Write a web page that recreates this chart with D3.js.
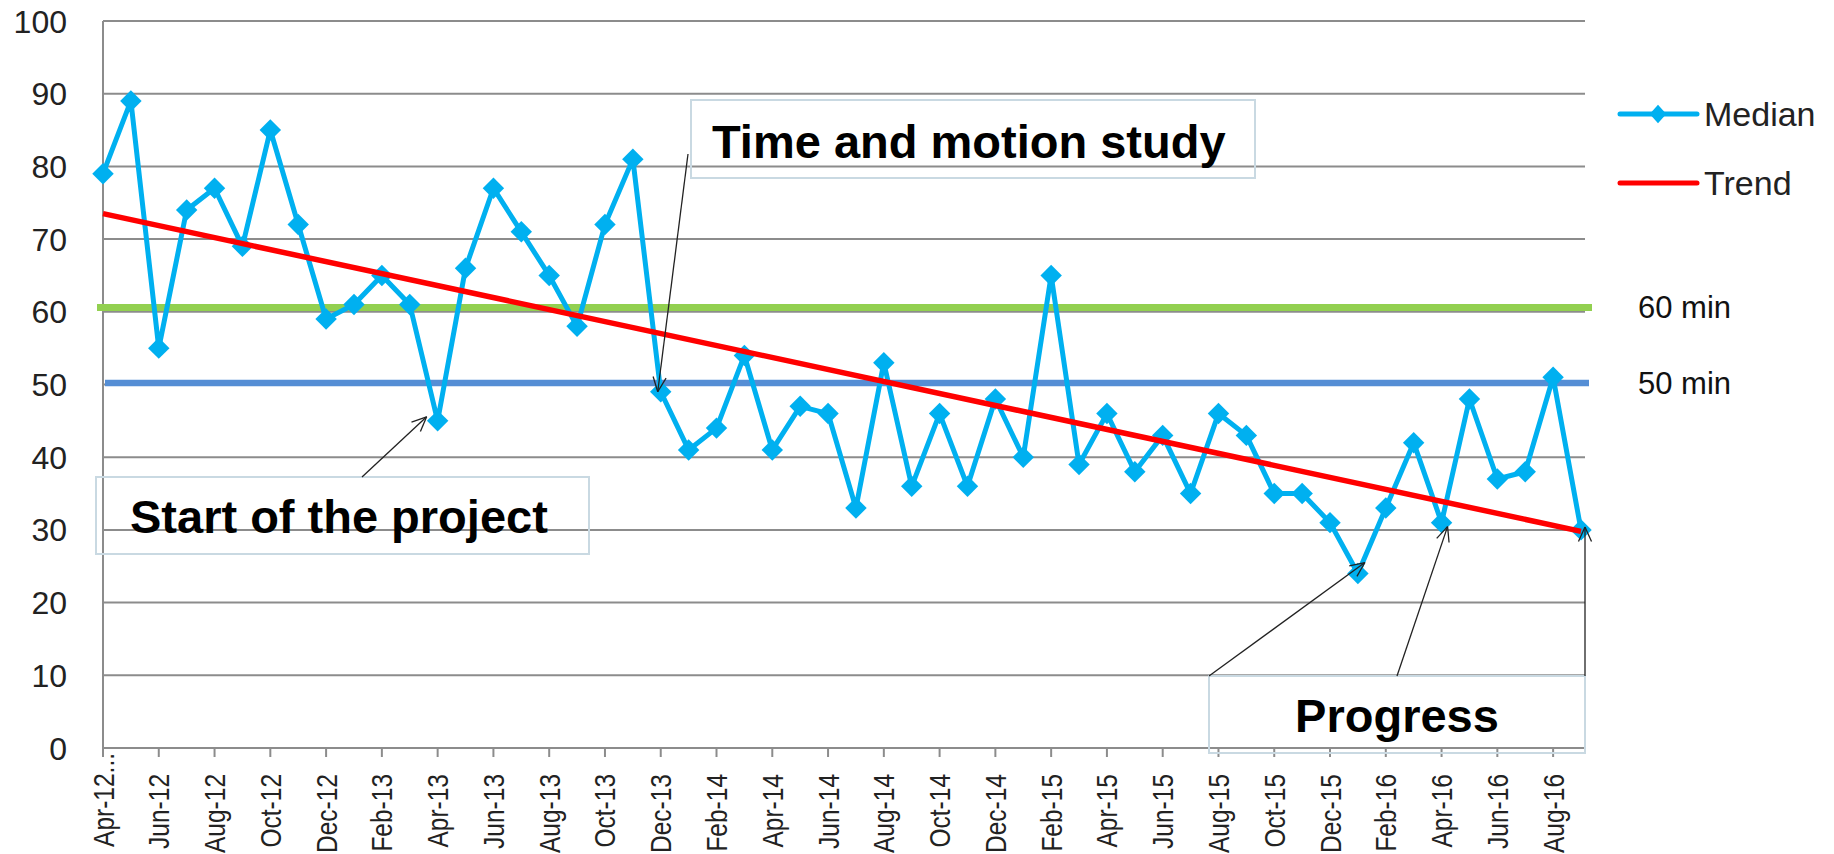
<!DOCTYPE html>
<html><head><meta charset="utf-8">
<script src="https://cdn.jsdelivr.net/npm/d3@7/dist/d3.min.js"></script>
<style>
body{margin:0;background:#fff;}
svg{display:block;font-family:"Liberation Sans",Arial,sans-serif;}
</style>
</head><body>
<svg id="chart" width="1834" height="854"></svg>
<script>
// ---------- DATA ----------
const months = [
  "Apr-12","May-12","Jun-12","Jul-12","Aug-12","Sep-12","Oct-12","Nov-12","Dec-12",
  "Jan-13","Feb-13","Mar-13","Apr-13","May-13","Jun-13","Jul-13","Aug-13","Sep-13","Oct-13","Nov-13","Dec-13",
  "Jan-14","Feb-14","Mar-14","Apr-14","May-14","Jun-14","Jul-14","Aug-14","Sep-14","Oct-14","Nov-14","Dec-14",
  "Jan-15","Feb-15","Mar-15","Apr-15","May-15","Jun-15","Jul-15","Aug-15","Sep-15","Oct-15","Nov-15","Dec-15",
  "Jan-16","Feb-16","Mar-16","Apr-16","May-16","Jun-16","Jul-16","Aug-16","Sep-16"
];
const median = [
  79,89,55,74,77,69,85,72,59,
  61,65,61,45,66,77,71,65,58,72,81,49,
  41,44,54,41,47,46,33,53,36,46,36,48,
  40,65,39,46,38,43,35,46,43,35,35,31,
  24,33,42,31,48,37,38,51,30
];
const tickMonths = months.filter((m,i)=>i%2===0);
const tickText = tickMonths.map((m,i)=> i===0 ? "Apr-12..." : m);
const yTicks = [0,10,20,30,40,50,60,70,80,90,100];
const trendEnds = [73.5, 29.8];           // trendline value at first and last month
const refLines = [{label:"60 min", value:60.6, color:"#92D050", x1:97, x2:1592, w:7},
                  {label:"50 min", value:50.2, color:"#558ED5", x1:105, x2:1589, w:6.5}];
const legendItems = [{name:"Median", color:"#00B0F0", marker:true},
                     {name:"Trend", color:"#FF0000", marker:false}];
const notes = [
  {text:"Start of the project", box:[96,477,493,77], tx:130, ty:533,
   arrows:[{from:[362,477], month:"Apr-13", value:45, off:[-11,-4]}]},
  {text:"Time and motion study", box:[691,100,564,78], tx:712, ty:158,
   arrows:[{from:[688,154], month:"Dec-13", value:49, off:[-3,0]}]},
  {text:"Progress", box:[1209,676,376,77], tx:1397, ty:732, anchor:"middle",
   arrows:[{from:[1209,676], month:"Jan-16", value:24, off:[7,-11]},
           {from:[1397,676], month:"Apr-16", value:31, off:[6,4]},
           {from:[1585,676], month:"Sep-16", value:30, off:[4,-3]}]}
];

// ---------- LAYOUT ----------
const svg = d3.select("#chart");
const L = 103, R = 1581, GR = 1585, T = 21, B = 748;
const x = d3.scalePoint().domain(months).range([L, R]);
const y = d3.scaleLinear().domain([0,100]).range([B, T]);
const gridColor = "#8c8c8c";

// gridlines
svg.append("g").selectAll("line").data(yTicks).join("line")
  .attr("x1", L).attr("x2", GR)
  .attr("y1", d=>y(d)).attr("y2", d=>y(d))
  .attr("stroke", gridColor).attr("stroke-width", 2);
// left axis line
svg.append("line").attr("x1",L).attr("x2",L).attr("y1",y(100)).attr("y2",y(0))
  .attr("stroke", gridColor).attr("stroke-width", 2);
// x tick marks
svg.append("g").selectAll("line").data(tickMonths).join("line")
  .attr("x1", d=>x(d)).attr("x2", d=>x(d))
  .attr("y1", y(0)).attr("y2", y(0)+9)
  .attr("stroke", gridColor).attr("stroke-width", 2);

// y labels
svg.append("g").selectAll("text").data(yTicks).join("text")
  .attr("x", 67).attr("y", d=>y(d)).attr("dy","0.36em")
  .attr("text-anchor","end").attr("font-size",32).attr("fill","#222")
  .text(d=>d);

// x labels
svg.append("g").selectAll("text").data(tickMonths).join("text")
  .attr("transform", (d,i)=>`translate(${x(d)+10.5},${i===0?753:774}) rotate(-90) scale(1,1.2)`)
  .attr("text-anchor","end").attr("font-size",24.5).attr("fill","#222")
  .text((d,i)=>tickText[i]);

// reference lines
refLines.forEach(r=>{
  svg.append("line").attr("x1",r.x1).attr("x2",r.x2)
    .attr("y1",y(r.value)).attr("y2",y(r.value))
    .attr("stroke",r.color).attr("stroke-width",r.w);
  svg.append("text").attr("x",1638).attr("y",y(r.value)+10.5)
    .attr("font-size",31).attr("fill","#111").text(r.label);
});

// median series
const line = d3.line().x((d,i)=>x(months[i])).y(d=>y(d));
svg.append("path").datum(median).attr("d",line)
  .attr("fill","none").attr("stroke","#00B0F0").attr("stroke-width",5)
  .attr("stroke-linejoin","round");
const diamond = d3.symbol(d3.symbolSquare, 230);
svg.append("g").selectAll("path").data(median).join("path")
  .attr("d", diamond())
  .attr("transform",(d,i)=>`translate(${x(months[i])},${y(d)}) rotate(45)`)
  .attr("fill","#00B0F0");

// trend
svg.append("line")
  .attr("x1", x(months[0])).attr("y1", y(trendEnds[0]))
  .attr("x2", x(months[months.length-1])).attr("y2", y(trendEnds[1]))
  .attr("stroke","#FF0000").attr("stroke-width",5.5);

// legend
const legendDiamond = d3.symbol(d3.symbolSquare, 170);
legendItems.forEach((it,i)=>{
  const ly = 114 + i*69;
  svg.append("line").attr("x1",1620).attr("x2",1697).attr("y1",ly).attr("y2",ly)
    .attr("stroke",it.color).attr("stroke-width",5).attr("stroke-linecap","round");
  if(it.marker){
    svg.append("path").attr("d",legendDiamond())
      .attr("transform",`translate(1658,${ly}) scale(0.9,1) rotate(45)`)
      .attr("fill",it.color);
  }
  svg.append("text").attr("x",1704).attr("y",ly+12)
    .attr("font-size",34).attr("fill","#222").text(it.name);
});

// annotations
notes.forEach(n=>{
  svg.append("rect").attr("x",n.box[0]).attr("y",n.box[1])
    .attr("width",n.box[2]).attr("height",n.box[3])
    .attr("fill","none").attr("stroke","#c9d9e2").attr("stroke-width",2);
  svg.append("text").attr("x",n.tx).attr("y",n.ty)
    .attr("text-anchor", n.anchor||"start")
    .attr("font-size",47).attr("font-weight","bold").attr("fill","#000").text(n.text);
  n.arrows.forEach(a=>{
    const tx = x(a.month)+a.off[0], ty = y(a.value)+a.off[1];
    const [fx,fy] = a.from;
    svg.append("line").attr("x1",fx).attr("y1",fy).attr("x2",tx).attr("y2",ty)
      .attr("stroke","#222").attr("stroke-width",1.3);
    const ang = Math.atan2(fy-ty, fx-tx), len = 16, sp = 0.42;
    [ang-sp, ang+sp].forEach(aa=>{
      svg.append("line").attr("x1",tx).attr("y1",ty)
        .attr("x2",tx+len*Math.cos(aa)).attr("y2",ty+len*Math.sin(aa))
        .attr("stroke","#222").attr("stroke-width",1.3);
    });
  });
});
</script>
</body></html>
